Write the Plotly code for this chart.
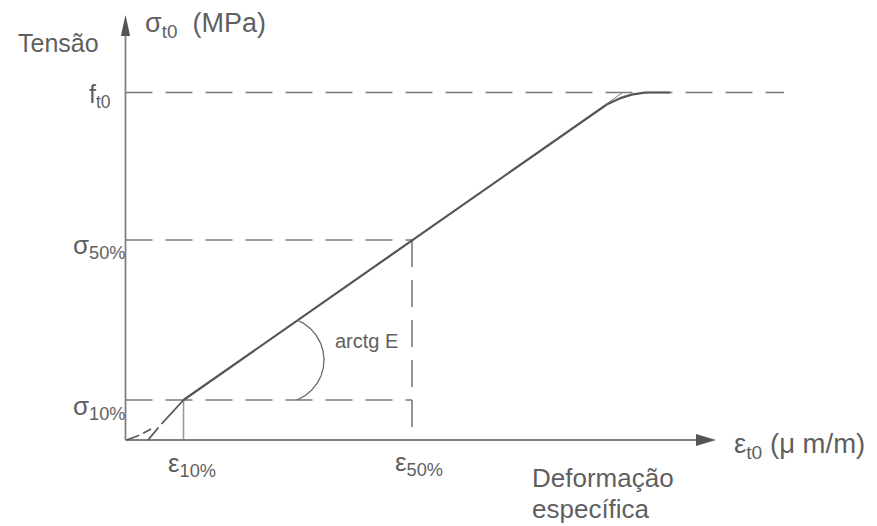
import numpy as np
import plotly.graph_objects as go

W, H = 877, 526
X0, Y0 = 125.5, 440  # where the two axes cross on the page

# Schematic stress-strain values (arbitrary units)
eps10, eps50 = 58.0, 286.5
sig10, sig50, ft0 = 40.0, 200.0, 347.5
eps_knee = 469.5     # end of the straight branch
eps_cap = 524.5      # curve reaches the tensile strength
eps_end = 544.5      # end of the plateau
toe_eps = [1.0, 12.0, 25.5]
toe_sig = [0.0, 4.0, 11.0]
foot_eps = [22.5, 33.0, None, 36.0, eps10]
foot_sig = [0.0, 12.5, None, 16.0, sig10]

E = (sig50 - sig10) / (eps50 - eps10)
eps_top = eps10 + (ft0 - sig10) / E          # straight branch meets f_t0
sig_knee = sig10 + E * (eps_knee - eps10)

# straight branch + rounded transition (quadratic Bezier) + plateau
t = np.linspace(0, 1, 40)
bx = (1 - t) ** 2 * eps_knee + 2 * (1 - t) * t * eps_top + t ** 2 * eps_cap
by = (1 - t) ** 2 * sig_knee + 2 * (1 - t) * t * ft0 + t ** 2 * ft0
curve_x = np.concatenate([[eps10], bx, [eps_end]])
curve_y = np.concatenate([[sig10], by, [ft0]])

# angle mark for arctg E
arc_c, arc_r = (155.5, 80.0), 43.0
th = np.linspace(-np.pi / 2, np.pi / 2, 400)
ax_ = arc_c[0] + arc_r * np.cos(th)
ay_ = arc_c[1] + arc_r * np.sin(th)
keep = (ay_ >= sig10) & (ay_ <= sig10 + E * (ax_ - eps10))
arc_x, arc_y = ax_[keep], ay_[keep]

DARK = "#555555"
DASH = "#7a7a7a"
AXIS = "#808080"
TXT = "#5f5f5f"
FONT = "Liberation Sans, Arial, sans-serif"
dash = "27px,13px"

fig = go.Figure()
fig.add_trace(go.Scatter(x=curve_x, y=curve_y, mode="lines",
                         line=dict(color=DARK, width=2.2)))
fig.add_trace(go.Scatter(x=foot_eps, y=foot_sig, mode="lines",
                         line=dict(color=DARK, width=1.8)))
fig.add_trace(go.Scatter(x=toe_eps, y=toe_sig, mode="lines",
                         line=dict(color=DARK, width=1.5, dash="14px,4px", shape="spline")))
fig.add_trace(go.Scatter(x=[eps_knee + 10, eps_top], y=[sig10 + E * (eps_knee + 10 - eps10), ft0],
                         mode="lines", line=dict(color=DASH, width=1)))
fig.add_trace(go.Scatter(x=arc_x, y=arc_y, mode="lines",
                         line=dict(color="#6a6a6a", width=1.3)))

shapes = []
def seg(x0, y0, x1, y1, color, width, d="solid"):
    shapes.append(dict(type="line", x0=x0, y0=y0, x1=x1, y1=y1, layer="below",
                       line=dict(color=color, width=width, dash=d)))

seg(0, ft0, 658.5, ft0, DASH, 1.6, dash)
seg(0, sig50, eps50, sig50, DASH, 1.6, dash)
seg(0, sig10, eps50, sig10, DASH, 1.6, dash)
seg(eps50, sig50, eps50, 0, DASH, 1.6, dash)
seg(eps10, sig10, eps10, 0, "#9a9a9a", 1.6)

# axes with arrow heads
seg(0, 0, 0, 405, AXIS, 1.8)
seg(0, 0, 571, 0, AXIS, 1.8)
shapes.append(dict(type="path", path="M -4.6,404 L 4.6,404 L 0,425 Z",
                   fillcolor="#555555", line=dict(width=0)))
shapes.append(dict(type="path", path="M 570.5,-6 L 570.5,6 L 590.5,0 Z",
                   fillcolor="#555555", line=dict(width=0)))

def note(x, y, text, size=25, xa="center", ya="middle"):
    return dict(x=x, y=y, xref="x", yref="y", text=text, showarrow=False,
                xanchor=xa, yanchor=ya, font=dict(family=FONT, size=size, color=TXT))

annotations = [
    note(-67, 397, "Tensão"),
    note(17, 415, "σ<sub>t0</sub>\u00a0 (MPa)", size=27, xa="left"),
    note(-13, ft0 - 3, "f<sub>t0</sub>", xa="right"),
    note(1, sig50 - 6, "σ<sub>50%</sub>", size=26, xa="right"),
    note(1, sig10 - 7, "σ<sub>10%</sub>", size=26, xa="right"),
    note(eps10 + 8, -24, "ε<sub>10%</sub>", size=26),
    note(eps50 + 7, -23, "ε<sub>50%</sub>", size=26),
    note(606.5, -5, "ε<sub>t0</sub> (μ m/m)", size=27.5, xa="left"),
    note(404.5, -38, "Deformação", size=26, xa="left"),
    note(404.5, -69, "específica", size=26, xa="left"),
    note(240.5, 99, "arctg E", size=20),
]

fig.update_layout(
    width=W, height=H,
    margin=dict(l=0, r=0, t=0, b=0),
    paper_bgcolor="white", plot_bgcolor="white",
    showlegend=False,
    xaxis=dict(range=[-X0, W - X0], visible=False, fixedrange=True),
    yaxis=dict(range=[Y0 - H, Y0], visible=False, fixedrange=True),
    shapes=shapes,
    annotations=annotations,
)

fig.write_html("out.html")
